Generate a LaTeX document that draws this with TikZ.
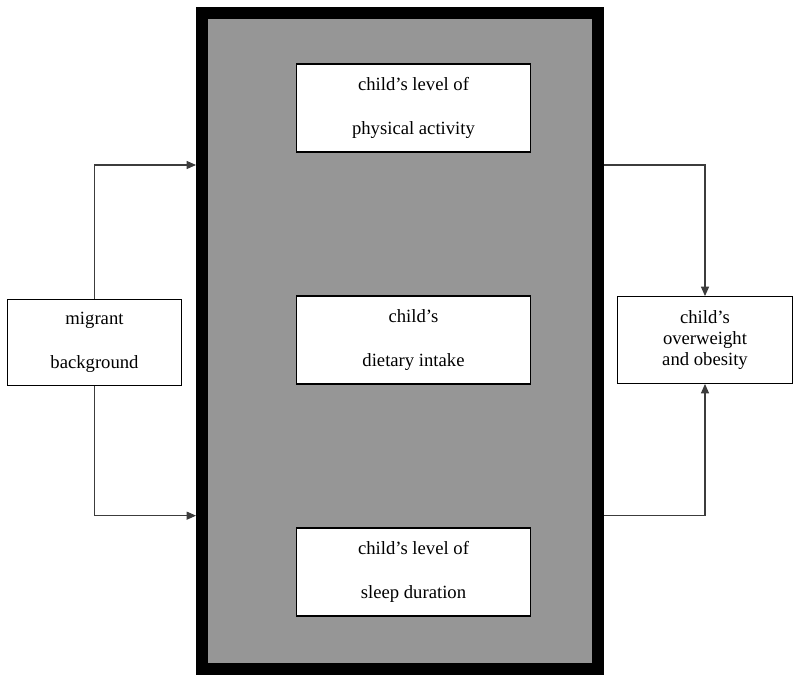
\documentclass[tikz,border=0pt]{standalone}
\usepackage{fontspec}
\setmainfont{Liberation Serif}
\usepackage{tikz}
\usetikzlibrary{arrows.meta,positioning,calc}
\definecolor{framegray}{HTML}{969696}
\definecolor{linkgray}{HTML}{3C3C3C}

\tikzset{
  factor/.style={draw, fill=white, line width=0.9pt, minimum width=175pt, minimum height=66pt,
    align=center, font=\fontsize{14pt}{33pt}\selectfont},
  outcome/.style={draw, fill=white, line width=0.9pt, minimum width=131pt, minimum height=65pt,
    align=center, font=\fontsize{14pt}{15.4pt}\selectfont},
  link/.style={draw=linkgray, line width=0.8pt, -{Triangle[length=7pt,width=6pt]}}
}

\begin{document}
\begin{tikzpicture}[x=0.75pt, y=-0.75pt]
    \useasboundingbox (0,0) rectangle (800,683);
    \node[draw, fill=framegray, line width=9pt, minimum width=297pt, minimum height=492pt] (frame) at (400,341) {};
    \node[factor] (act) at (413.5,108) {child’s level of\\physical activity};
    \node[factor] (diet) at (413.5,340) {child’s\\dietary intake};
    \node[factor] (sleep) at (413.5,572) {child’s level of\\sleep duration};
    \node[factor, minimum width=131pt, minimum height=65pt] (mig) at (94.5,342.5) {migrant\\background};
    \node[outcome] (obes) at (705,340) {child’s\\overweight\\and obesity};
    \draw[link] (mig.north) |- ([yshift=132pt]frame.west);
    \draw[link] (mig.south) |- ([yshift=-131pt]frame.west);
    \draw[link] ([yshift=132pt]frame.east) -| (obes.north);
    \draw[link] ([yshift=-131pt]frame.east) -| (obes.south);
\end{tikzpicture}
\end{document}
